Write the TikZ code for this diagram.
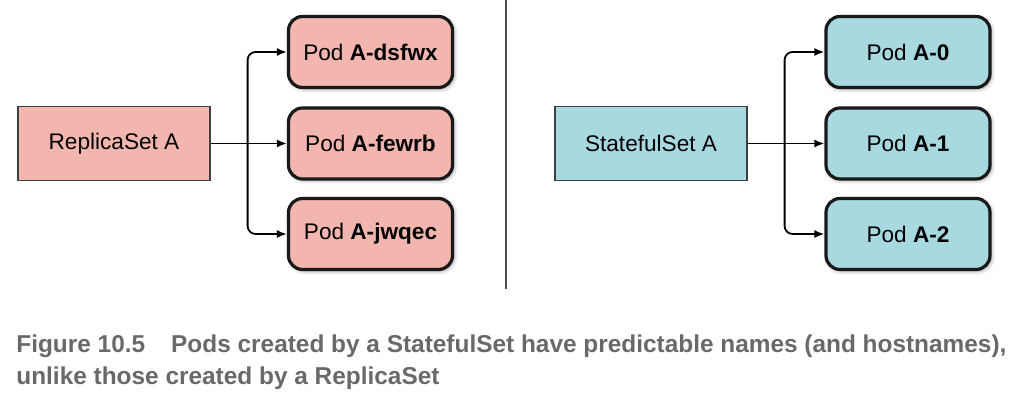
\documentclass[tikz,border=0pt]{standalone}
\usepackage{fontspec}
\setmainfont{Liberation Sans}
\usepackage{xcolor}
\usetikzlibrary{arrows.meta,positioning,shadows.blur}
\definecolor{rsfill}{RGB}{242,182,174}
\definecolor{ssfill}{RGB}{168,216,224}
\definecolor{capgray}{RGB}{105,105,105}
\begin{document}
\begin{tikzpicture}[
					%Environment config
					x=0.5pt,y=-0.5pt,
					font=\fontsize{11.3}{13}\selectfont,
					%Environment styles
					SetCfg/.style={
						draw=black!75,
						line width=0.6pt,
						minimum width=96pt,
						minimum height=37pt,
						inner sep=0pt
					},
					PodCfg/.style={
						draw=black!90,
						line width=1.6pt,
						rounded corners=7pt,
						minimum width=82pt,
						minimum height=35.5pt,
						inner sep=0pt,
						blur shadow={shadow xshift=0.8pt,shadow yshift=-0.8pt,shadow blur radius=2pt}
					},
					LinkCfg/.style={
						line width=0.9pt,
						-{Latex[length=5pt,width=4pt]}
					},
					CapCfg/.style={
						anchor=base west,
						inner sep=0pt,
						text=capgray,
						font=\fontsize{12.2}{14}\selectfont\bfseries
					}
					]
					\useasboundingbox (0,0) rectangle (1024,415);
					
					\path
					(114,143.5) node[SetCfg,fill=rsfill](RS){ReplicaSet A}
					(370.5,52) node[PodCfg,fill=rsfill](RP1){Pod \textbf{A-dsfwx}}
					(370.5,143.5) node[PodCfg,fill=rsfill](RP2){Pod \textbf{A-fewrb}}
					(370.5,234) node[PodCfg,fill=rsfill](RP3){Pod \textbf{A-jwqec}}
					(651,143.5) node[SetCfg,fill=ssfill](SS){StatefulSet A}
					(908,52) node[PodCfg,fill=ssfill](SP1){Pod \textbf{A-0}}
					(908,143.5) node[PodCfg,fill=ssfill](SP2){Pod \textbf{A-1}}
					(908,234) node[PodCfg,fill=ssfill](SP3){Pod \textbf{A-2}};
					
					\draw[LinkCfg]
					(RS.east) -- (RP2.west);
					\draw[LinkCfg,rounded corners=4pt]
					(RS.east) ++(37,0) |- (RP1.west);
					\draw[LinkCfg,rounded corners=4pt]
					(RS.east) ++(37,0) |- (RP3.west);
					\draw[LinkCfg]
					(SS.east) -- (SP2.west);
					\draw[LinkCfg,rounded corners=4pt]
					(SS.east) ++(37,0) |- (SP1.west);
					\draw[LinkCfg,rounded corners=4pt]
					(SS.east) ++(37,0) |- (SP3.west);
					
					%divider
					\draw[black!70,line width=1pt]
					(506,0) coordinate (top) -- (506,289) coordinate (bottom);
					
					\path
					(16,353) node[CapCfg](cap1){Figure 10.5\hspace{13pt}Pods created by a StatefulSet have predictable names (and hostnames),}
					(16,385) node[CapCfg](cap2){unlike those created by a ReplicaSet};
				\end{tikzpicture}
\end{document}
